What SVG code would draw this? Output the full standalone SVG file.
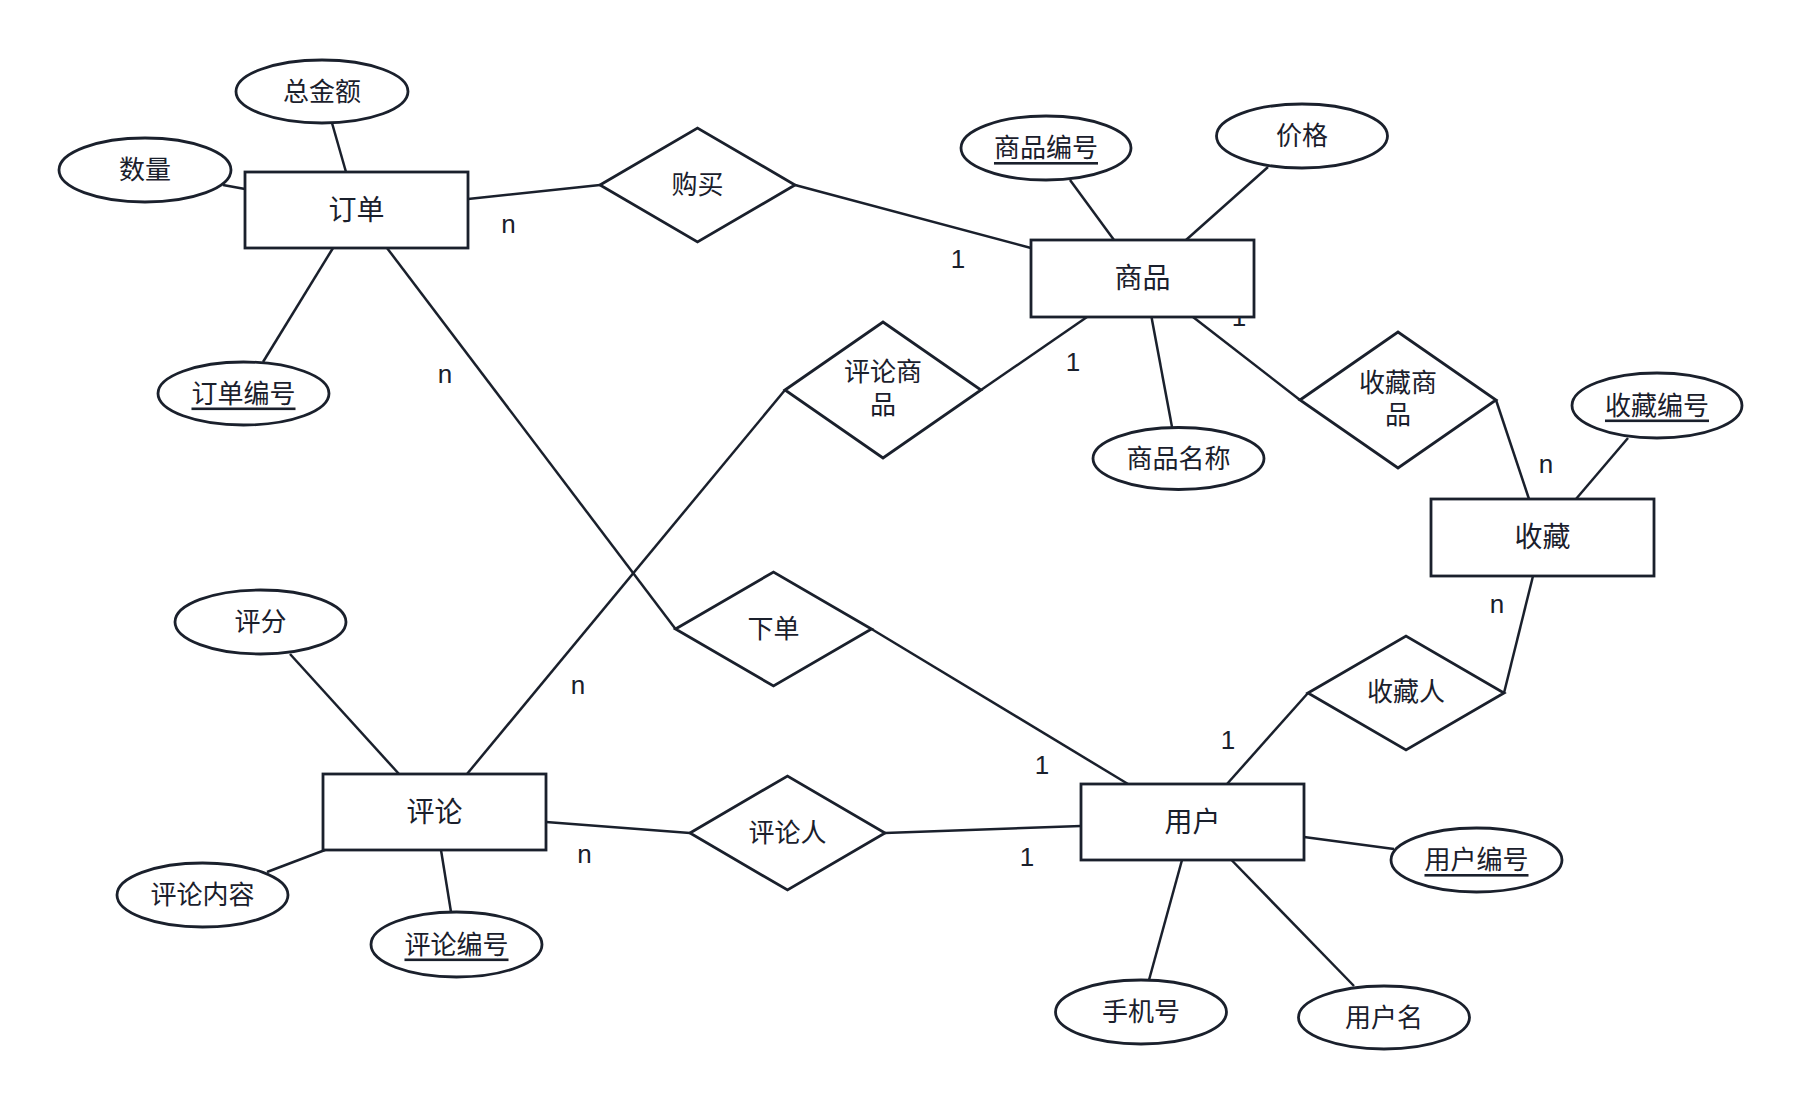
<svg xmlns="http://www.w3.org/2000/svg" width="1802" height="1110" viewBox="0 0 1802 1110">
<style>
.shape{fill:#ffffff;stroke:#1a202c;stroke-width:2.8}
.link{stroke:#1a202c;stroke-width:2.5;fill:none}
.t{font-family:"Liberation Sans","Noto Sans CJK SC",sans-serif;font-size:26px;fill:#1a202c;text-anchor:middle;dominant-baseline:central}
.e{font-size:28px}
.u{text-decoration:underline}
.card{font-family:"Liberation Sans","Noto Sans CJK SC",sans-serif;font-size:26px;fill:#1a202c;text-anchor:middle}
</style>
<rect width="1802" height="1110" fill="#ffffff"/>
<g id="connectors">
<line class="link" x1="468" y1="199" x2="600" y2="185"/>
<line class="link" x1="795" y1="185" x2="1031" y2="248"/>
<line class="link" x1="387" y1="248" x2="675.5" y2="629"/>
<line class="link" x1="871.5" y1="629" x2="1128" y2="784"/>
<line class="link" x1="981" y1="390" x2="1087" y2="317"/>
<line class="link" x1="785" y1="390" x2="467" y2="774"/>
<line class="link" x1="1193" y1="317" x2="1300" y2="400"/>
<line class="link" x1="1496" y1="400" x2="1529" y2="499"/>
<line class="link" x1="1533" y1="576" x2="1504" y2="693"/>
<line class="link" x1="1308" y1="693" x2="1227" y2="784"/>
<line class="link" x1="546" y1="822" x2="690" y2="833"/>
<line class="link" x1="885" y1="833" x2="1081" y2="826"/>
<line class="link" x1="332" y1="123" x2="346" y2="172"/>
<line class="link" x1="223" y1="185" x2="245" y2="189"/>
<line class="link" x1="263" y1="362" x2="333" y2="248"/>
<line class="link" x1="1070" y1="180" x2="1114" y2="240"/>
<line class="link" x1="1268" y1="167" x2="1186" y2="240"/>
<line class="link" x1="1151.5" y1="317" x2="1172" y2="427"/>
<line class="link" x1="1628" y1="438" x2="1576" y2="499"/>
<line class="link" x1="290" y1="654" x2="399" y2="774"/>
<line class="link" x1="267" y1="872" x2="325" y2="850"/>
<line class="link" x1="441" y1="850" x2="451" y2="912"/>
<line class="link" x1="1304" y1="837" x2="1394" y2="849"/>
<line class="link" x1="1182" y1="860" x2="1149" y2="980"/>
<line class="link" x1="1231.5" y1="860" x2="1354" y2="986"/>
<text class="card" x="508.5" y="233">n</text>
<text class="card" x="445" y="383">n</text>
<text class="card" x="958" y="268">1</text>
<text class="card" x="1073" y="371">1</text>
<text class="card" x="1239" y="326">1</text>
<text class="card" x="1546" y="473">n</text>
<text class="card" x="1497" y="613">n</text>
<text class="card" x="1228" y="749">1</text>
<text class="card" x="1042" y="774">1</text>
<text class="card" x="1027" y="866">1</text>
<text class="card" x="578" y="694">n</text>
<text class="card" x="584.5" y="863">n</text>
</g>
<g id="order"><rect class="shape" x="245" y="172" width="223" height="76"/><text class="t e" x="356.5" y="210">订单</text></g>
<g id="product"><rect class="shape" x="1031" y="240" width="223" height="77"/><text class="t e" x="1142.5" y="278.5">商品</text></g>
<g id="favorite"><rect class="shape" x="1431" y="499" width="223" height="77"/><text class="t e" x="1542.5" y="537.5">收藏</text></g>
<g id="comment"><rect class="shape" x="323" y="774" width="223" height="76"/><text class="t e" x="434.5" y="812">评论</text></g>
<g id="user"><rect class="shape" x="1081" y="784" width="223" height="76"/><text class="t e" x="1192.5" y="822">用户</text></g>
<g id="rel-buy"><polygon class="shape" points="600,185 697.5,128 795,185 697.5,242"/><text class="t" x="697.5" y="185">购买</text></g>
<g id="rel-review-product"><polygon class="shape" points="785,390 883,322 981,390 883,458"/><text class="t" x="883" y="372">评论商</text><text class="t" x="883" y="405">品</text></g>
<g id="rel-fav-product"><polygon class="shape" points="1300,400 1398,332 1496,400 1398,468"/><text class="t" x="1398" y="383">收藏商</text><text class="t" x="1398" y="415">品</text></g>
<g id="rel-place-order"><polygon class="shape" points="675.5,629 773.5,572 871.5,629 773.5,686"/><text class="t" x="773.5" y="629">下单</text></g>
<g id="rel-reviewer"><polygon class="shape" points="690,833 787.5,776 885,833 787.5,890"/><text class="t" x="787.5" y="833">评论人</text></g>
<g id="rel-favoriter"><polygon class="shape" points="1308,693 1406,636 1504,693 1406,750"/><text class="t" x="1406" y="692">收藏人</text></g>
<g id="attr-total"><ellipse class="shape" cx="322" cy="91.5" rx="86" ry="31.5"/><text class="t" x="322" y="91.5">总金额</text></g>
<g id="attr-qty"><ellipse class="shape" cx="145" cy="170" rx="86" ry="32"/><text class="t" x="145" y="170">数量</text></g>
<g id="attr-order-id"><ellipse class="shape" cx="243.5" cy="393.5" rx="85.5" ry="31.5"/><text class="t u" x="243.5" y="393.5">订单编号</text></g>
<g id="attr-product-id"><ellipse class="shape" cx="1046" cy="148" rx="85" ry="32"/><text class="t u" x="1046" y="148">商品编号</text></g>
<g id="attr-price"><ellipse class="shape" cx="1302" cy="136" rx="85.5" ry="32"/><text class="t" x="1302" y="136">价格</text></g>
<g id="attr-product-name"><ellipse class="shape" cx="1178.5" cy="458.5" rx="85.5" ry="31"/><text class="t" x="1178.5" y="458.5">商品名称</text></g>
<g id="attr-fav-id"><ellipse class="shape" cx="1657" cy="405.5" rx="85" ry="32.5"/><text class="t u" x="1657" y="405.5">收藏编号</text></g>
<g id="attr-score"><ellipse class="shape" cx="260.5" cy="622" rx="85.5" ry="32"/><text class="t" x="260.5" y="622">评分</text></g>
<g id="attr-content"><ellipse class="shape" cx="202.5" cy="895" rx="85.5" ry="32"/><text class="t" x="202.5" y="895">评论内容</text></g>
<g id="attr-comment-id"><ellipse class="shape" cx="456.5" cy="944.5" rx="85.5" ry="32.5"/><text class="t u" x="456.5" y="944.5">评论编号</text></g>
<g id="attr-user-id"><ellipse class="shape" cx="1476.5" cy="860" rx="85.5" ry="32"/><text class="t u" x="1476.5" y="860">用户编号</text></g>
<g id="attr-phone"><ellipse class="shape" cx="1141" cy="1012" rx="85.5" ry="32"/><text class="t" x="1141" y="1012">手机号</text></g>
<g id="attr-username"><ellipse class="shape" cx="1384" cy="1017.5" rx="85.5" ry="31.5"/><text class="t" x="1384" y="1017.5">用户名</text></g>
</svg>
